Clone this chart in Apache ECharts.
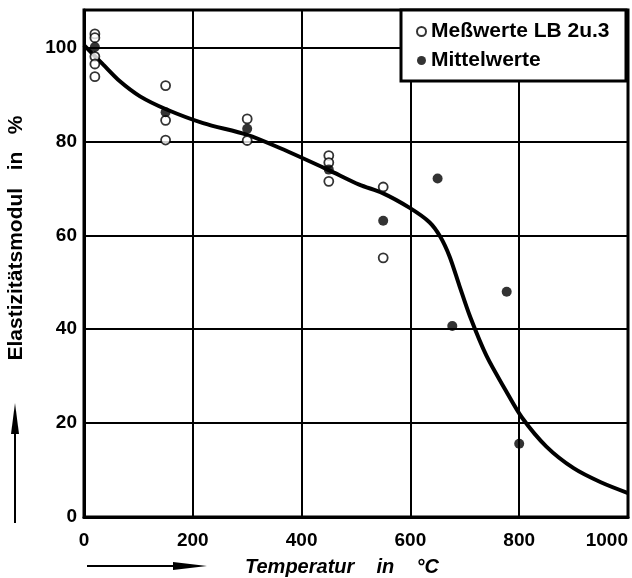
<!DOCTYPE html>
<html>
<head>
<meta charset="utf-8">
<script src="https://cdn.jsdelivr.net/npm/echarts@6/dist/echarts.min.js"></script>
<style>
  html, body { margin: 0; padding: 0; background: #fff; }
  #container { width: 632px; height: 578px; }
</style>
</head>
<body>
<div id="container"></div>
<script>
// Elastizitaetsmodul vs. Temperatur
var xTicks = [0, 200, 400, 600, 800, 1000];
var yTicks = [0, 20, 40, 60, 80, 100];

// Messwerte LB 2 u. 3 (offene Kreise)
var messT = [20, 20, 20, 20, 20, 150, 150, 150, 300, 300, 450, 450, 450, 550, 550];
var messW = [102.9, 102.1, 98.1, 96.5, 93.8, 91.9, 84.5, 80.3, 84.8, 80.2, 77.0, 75.5, 71.5, 70.3, 55.2];

// Mittelwerte (gefuellte Punkte)
var mittelT = [20, 150, 300, 450, 550, 650, 677, 777, 800];
var mittelW = [100.1, 86.2, 82.7, 74.0, 63.1, 72.1, 40.7, 48.0, 15.6];

// Ausgleichskurve
var kurveT = [0, 35, 66, 103, 152, 219, 300, 360, 448, 506, 549, 598, 635, 655, 672, 690, 710, 740, 775, 805, 850, 900, 950, 1000];
var kurveW = [100.5, 96.4, 92.8, 89.6, 86.8, 83.9, 81.4, 78.6, 74.0, 70.8, 69.0, 65.9, 62.8, 59.7, 55.5, 49.3, 42.6, 34.3, 27.0, 21.2, 15.0, 10.4, 7.4, 5.1];

var pairs = (xs, ys) => xs.map((x, i) => [x, ys[i]]);
var fnt = "'Liberation Sans', Arial, sans-serif";

var dom = document.getElementById("container");
var myChart = echarts.init(dom);
var option = {
  animation: false,
  backgroundColor: '#fff',
  grid: {
    left: 84, right: 4, top: 10, bottom: 61,
    show: true, borderColor: '#000', borderWidth: 3
  },
  xAxis: {
    type: 'value',
    min: 0, max: 1000, interval: 200,
    axisLine: { lineStyle: { color: '#000', width: 3 } },
    axisTick: { show: false },
    splitLine: { lineStyle: { color: '#000', width: 2 } },
    axisLabel: {
      color: '#000', fontFamily: fnt, fontWeight: 'bold', fontSize: 19, margin: 14,
      alignMaxLabel: 'right',
      formatter: v => xTicks.indexOf(v) >= 0 ? String(v) : ''
    }
  },
  yAxis: {
    type: 'value',
    min: 0, max: 108, interval: 20,
    axisLine: { lineStyle: { color: '#000', width: 3 } },
    axisTick: { show: false },
    splitLine: { lineStyle: { color: '#000', width: 2 } },
    axisLabel: {
      color: '#000', fontFamily: fnt, fontWeight: 'bold', fontSize: 19, margin: 7,
      formatter: v => yTicks.indexOf(v) >= 0 ? String(v) : ''
    }
  },
  legend: {
    orient: 'vertical',
    left: 411, top: 16,
    z: 20,
    itemWidth: 9, itemHeight: 9, itemGap: 8,
    data: ['Meßwerte LB 2u.3', 'Mittelwerte'],
    textStyle: { color: '#000', fontFamily: fnt, fontWeight: 'bold', fontSize: 21 }
  },
  graphic: [
    {
      type: 'rect', z: 10,
      shape: { x: 401, y: 10, width: 225, height: 71 },
      style: { fill: '#fff', stroke: '#000', lineWidth: 3 }
    },
    {
      type: 'text', z: 10,
      x: 16, y: 238, rotation: Math.PI / 2,
      style: {
        text: 'Elastizitätsmodul   in   %', fill: '#000',
        font: "bold 21px 'Liberation Sans', Arial, sans-serif",
        textAlign: 'center', textVerticalAlign: 'middle'
      }
    },
    {
      type: 'text', z: 10,
      x: 245, y: 567,
      style: {
        text: 'Temperatur    in    °C', fill: '#000',
        font: "italic bold 20px 'Liberation Sans', Arial, sans-serif",
        textAlign: 'left', textVerticalAlign: 'middle'
      }
    },
    // Pfeil an der y-Achse
    { type: 'line', z: 10, shape: { x1: 15, y1: 523, x2: 15, y2: 425 }, style: { stroke: '#000', lineWidth: 2 } },
    { type: 'polygon', z: 10, shape: { points: [[15, 403], [11, 434], [19, 434]] }, style: { fill: '#000' } },
    // Pfeil an der x-Achse
    { type: 'line', z: 10, shape: { x1: 87, y1: 566, x2: 180, y2: 566 }, style: { stroke: '#000', lineWidth: 2 } },
    { type: 'polygon', z: 10, shape: { points: [[207, 566], [173, 562], [173, 570]] }, style: { fill: '#000' } }
  ],
  series: [
    {
      name: 'Kurve',
      type: 'line',
      data: pairs(kurveT, kurveW),
      smooth: 0.3,
      showSymbol: false,
      lineStyle: { color: '#000', width: 4 },
      z: 3
    },
    {
      name: 'Meßwerte LB 2u.3',
      type: 'scatter',
      symbol: 'circle',
      symbolSize: 9,
      data: pairs(messT, messW),
      itemStyle: { color: '#fff', borderColor: '#000', borderWidth: 1.8 },
      z: 4
    },
    {
      name: 'Mittelwerte',
      type: 'scatter',
      symbol: 'circle',
      symbolSize: 10,
      data: pairs(mittelT, mittelW),
      itemStyle: { color: '#000' },
      z: 5
    }
  ]
};

if (option && typeof option === "object") {
  myChart.setOption(option, true);
}
</script>
</body>
</html>
